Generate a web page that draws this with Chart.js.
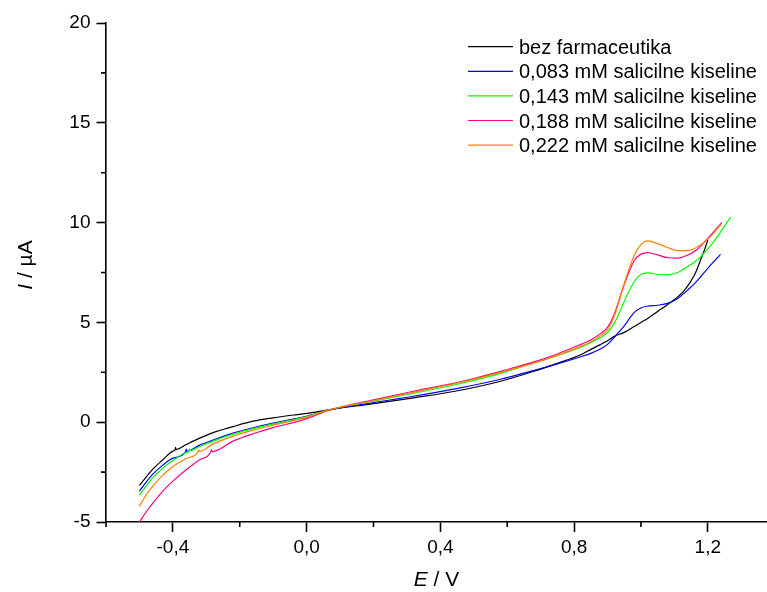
<!DOCTYPE html>
<html>
<head>
<meta charset="utf-8">
<script src="https://cdn.jsdelivr.net/npm/chart.js@4.4.1/dist/chart.umd.min.js"></script>
<style>
html,body{margin:0;padding:0;background:#fff;overflow:hidden;}
#wrap{position:relative;width:767px;height:592px;}
</style>
</head>
<body>
<div id="wrap"><canvas id="c"></canvas></div>
<script>
// ---- data (E / V, I / µA) ----
const seriesLabels = ['bez farmaceutika','0,083 mM salicilne kiseline','0,143 mM salicilne kiseline','0,188 mM salicilne kiseline','0,222 mM salicilne kiseline'];

const potBlack = [-0.5,-0.48,-0.46,-0.43,-0.4,-0.394,-0.392,-0.39,-0.36,-0.32,-0.28,-0.22,-0.16,-0.1,-0.04,0,0.07,0.2,0.32,0.46,0.58,0.68,0.75,0.82,0.85,0.88,0.9,0.92,0.95,0.98,1.0,1.02,1.05,1.08,1.11,1.13,1.16,1.18,1.19,1.2];
const curBlack = [-3.16,-2.75,-2.35,-1.88,-1.45,-1.40,-1.26,-1.37,-1.12,-0.80,-0.52,-0.22,0.05,0.22,0.36,0.44,0.63,0.93,1.22,1.60,2.05,2.55,2.95,3.38,3.65,3.90,4.08,4.30,4.50,4.80,5.00,5.20,5.55,5.90,6.28,6.60,7.37,8.20,8.63,9.13];

const potBlue = [-0.5,-0.48,-0.46,-0.43,-0.4,-0.362,-0.36,-0.358,-0.32,-0.28,-0.22,-0.16,-0.1,-0.04,0,0.07,0.2,0.32,0.46,0.58,0.68,0.75,0.82,0.85,0.88,0.9,0.92,0.95,0.98,1.0,1.02,1.05,1.08,1.11,1.14,1.17,1.2,1.238];
const curBlue = [-3.46,-3.0,-2.6,-2.15,-1.80,-1.49,-1.35,-1.46,-1.15,-0.90,-0.55,-0.28,-0.05,0.15,0.30,0.62,0.98,1.30,1.72,2.15,2.60,2.92,3.28,3.45,3.68,3.90,4.25,4.82,5.50,5.72,5.82,5.86,5.95,6.20,6.62,7.12,7.71,8.41];

const potGreen = [-0.5,-0.48,-0.46,-0.43,-0.4,-0.36,-0.352,-0.35,-0.348,-0.32,-0.28,-0.22,-0.16,-0.1,-0.04,0,0.07,0.2,0.32,0.46,0.58,0.68,0.75,0.82,0.85,0.88,0.9,0.92,0.95,0.98,1.0,1.02,1.05,1.08,1.11,1.14,1.17,1.2,1.22,1.268];
const curGreen = [-3.66,-3.2,-2.78,-2.3,-1.92,-1.52,-1.46,-1.33,-1.43,-1.22,-0.95,-0.60,-0.32,-0.08,0.12,0.28,0.63,1.05,1.45,1.94,2.45,2.98,3.33,3.76,3.98,4.25,4.50,4.95,6.05,7.05,7.40,7.48,7.40,7.38,7.50,7.80,8.15,8.68,9.10,10.27];

const potPink = [-0.5,-0.48,-0.46,-0.43,-0.4,-0.36,-0.32,-0.288,-0.285,-0.282,-0.22,-0.16,-0.1,-0.04,0,0.07,0.2,0.32,0.46,0.58,0.68,0.75,0.82,0.85,0.88,0.9,0.92,0.95,0.98,1.0,1.02,1.05,1.08,1.11,1.14,1.17,1.2,1.242];
const curPink = [-5.0,-4.5,-4.05,-3.45,-2.95,-2.38,-1.88,-1.53,-1.38,-1.47,-0.95,-0.58,-0.27,-0.02,0.18,0.62,1.12,1.55,2.02,2.55,3.02,3.42,3.90,4.12,4.45,4.75,5.40,6.90,8.10,8.42,8.50,8.38,8.24,8.22,8.38,8.68,9.21,10.0];

const potOrange = [-0.5,-0.48,-0.46,-0.43,-0.4,-0.36,-0.326,-0.323,-0.32,-0.28,-0.22,-0.16,-0.1,-0.04,0,0.07,0.2,0.32,0.46,0.58,0.68,0.75,0.82,0.85,0.88,0.9,0.92,0.95,0.98,1.0,1.02,1.05,1.08,1.11,1.14,1.17,1.2,1.238];
const curOrange = [-4.21,-3.65,-3.2,-2.65,-2.22,-1.82,-1.51,-1.38,-1.46,-1.10,-0.70,-0.40,-0.15,0.08,0.24,0.63,1.08,1.50,2.00,2.50,2.96,3.35,3.80,4.02,4.35,4.62,5.30,6.95,8.37,8.90,9.08,8.95,8.75,8.60,8.60,8.80,9.16,9.88];

const xMajorTicks = [-0.4, 0.0, 0.4, 0.8, 1.2];
const xMinorTicks = [-0.6, -0.2, 0.2, 0.6, 1.0];
const yMajorTicks = [-5, 0, 5, 10, 15, 20];
const yMinorTicks = [-2.5, 2.5, 7.5, 12.5, 17.5];

const colors = ['#000000', '#0000FF', '#00FF00', '#FF0080', '#FF8000'];
const FONT = "'Liberation Sans', Arial, Helvetica, sans-serif";

function pts(xs, ys) { return xs.map((x, i) => ({x: x, y: ys[i]})); }
const seriesData = [pts(potBlack, curBlack), pts(potBlue, curBlue), pts(potGreen, curGreen), pts(potPink, curPink), pts(potOrange, curOrange)];

const datasets = seriesData.map((d, i) => ({
  label: seriesLabels[i],
  data: d,
  borderColor: colors[i],
  backgroundColor: colors[i],
  borderWidth: 1.2,
  pointRadius: 0,
  showLine: true,
  fill: false,
  cubicInterpolationMode: 'monotone',
  order: seriesLabels.length - i
}));

const extras = {
  id: 'extras',
  afterDraw(chart) {
    const ctx = chart.ctx, a = chart.chartArea;
    const xs = chart.scales.x, ys = chart.scales.y;
    ctx.save();
    // minor ticks
    ctx.strokeStyle = '#000'; ctx.lineWidth = 1.6;
    ctx.beginPath();
    xMinorTicks.forEach(v => { if (v >= xs.min && v <= xs.max) { const p = xs.getPixelForValue(v); ctx.moveTo(p, a.bottom); ctx.lineTo(p, a.bottom + 5); } });
    yMinorTicks.forEach(v => { const p = ys.getPixelForValue(v); ctx.moveTo(a.left, p); ctx.lineTo(a.left - 5, p); });
    ctx.stroke();
    // legend
    const lx0 = 468, lx1 = 513, tx = 519, ly0 = 46.7, dy = 24.6;
    ctx.font = '20px ' + FONT;
    ctx.textBaseline = 'alphabetic'; ctx.textAlign = 'left';
    chart.data.datasets.forEach((ds, i) => {
      const y = ly0 + i * dy;
      ctx.strokeStyle = ds.borderColor; ctx.lineWidth = 1.2;
      ctx.beginPath(); ctx.moveTo(lx0, y); ctx.lineTo(lx1, y); ctx.stroke();
      ctx.fillStyle = '#000';
      ctx.fillText(ds.label, tx, y + 7);
    });
    // axis titles
    const fs = 21;
    const it = 'italic ' + fs + 'px ' + FONT, rg = fs + 'px ' + FONT;
    ctx.font = it; const wE = ctx.measureText('E').width;
    ctx.font = rg; const wR = ctx.measureText(' / V').width;
    const cx = (a.left + a.right) / 2;
    let x0 = cx - (wE + wR) / 2;
    ctx.fillStyle = '#000';
    ctx.font = it; ctx.fillText('E', x0, 586);
    ctx.font = rg; ctx.fillText(' / V', x0 + wE, 586);
    ctx.save();
    ctx.translate(32, 265);
    ctx.rotate(-Math.PI / 2);
    ctx.font = it; const wI = ctx.measureText('I').width;
    ctx.font = rg; const wU = ctx.measureText(' / \u00B5A').width;
    let y0 = -(wI + wU) / 2;
    ctx.font = it; ctx.fillText('I', y0, 0);
    ctx.font = rg; ctx.fillText(' / \u00B5A', y0 + wI, 0);
    ctx.restore();
    ctx.restore();
  }
};

new Chart(document.getElementById('c'), {
  type: 'scatter',
  data: { datasets: datasets },
  options: {
    responsive: true,
    maintainAspectRatio: false,
    animation: false,
    layout: { padding: { top: 23, right: 0, left: 0, bottom: 0 } },
    plugins: { legend: { display: false }, tooltip: { enabled: false } },
    scales: {
      x: {
        type: 'linear', min: -0.6, max: 1.377,
        afterBuildTicks: s => { s.ticks = xMajorTicks.map(v => ({value: v})); },
        afterFit: s => { s.height = 70; },
        border: { display: true, color: '#000', width: 1.6 },
        grid: { display: true, drawOnChartArea: false, drawTicks: true, tickLength: 10, tickWidth: 1.6, tickColor: '#000' },
        ticks: { autoSkip: false, maxRotation: 0, padding: 4, color: '#000', font: { family: FONT, size: 19 },
          callback: v => v.toFixed(1).replace('.', ',') }
      },
      y: {
        type: 'linear', min: -5, max: 20,
        afterBuildTicks: s => { s.ticks = yMajorTicks.map(v => ({value: v})); },
        afterFit: s => { s.width = 106; },
        border: { display: true, color: '#000', width: 1.6 },
        grid: { display: true, drawOnChartArea: false, drawTicks: true, tickLength: 9.5, tickWidth: 1.6, tickColor: '#000' },
        ticks: { autoSkip: false, padding: 6, color: '#000', font: { family: FONT, size: 19 },
          callback: v => String(v) }
      }
    }
  },
  plugins: [extras]
});
</script>
</body>
</html>
